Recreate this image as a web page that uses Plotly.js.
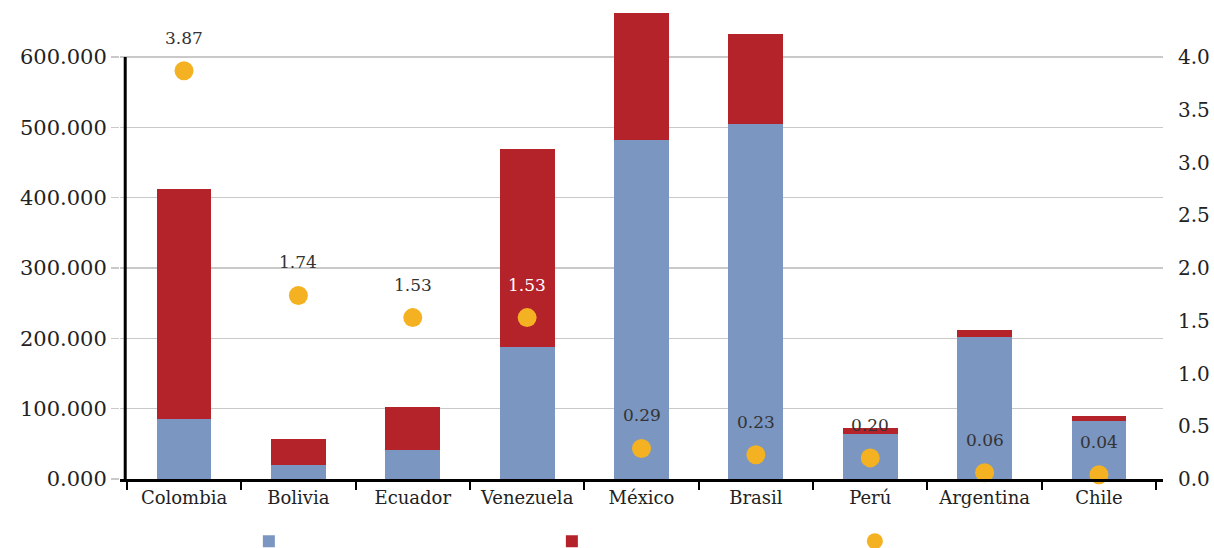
<!DOCTYPE html>
<html>
<head>
<meta charset="utf-8">
<script src="https://cdn.plot.ly/plotly-3.0.1.min.js"></script>
<style>html,body{margin:0;padding:0;background:#fff;}#chart{width:1214px;height:548px;}</style>
</head>
<body>
<div id="chart"></div>
<script>
const countries = ["Colombia","Bolivia","Ecuador","Venezuela","México","Brasil","Perú","Argentina","Chile"];
const blueValues = [85000, 20000, 41000, 188000, 482000, 505000, 64000, 202000, 82000];
const redValues = [327000, 37000, 61000, 281000, 181000, 128000, 8500, 10000, 8000];
const ratioValues = [3.87, 1.74, 1.53, 1.53, 0.29, 0.23, 0.20, 0.06, 0.04];
const ratioLabelColors = ["#333","#333","#333","#fff","#333","#333","#333","#333","#333"];
const leftTickVals = [0, 100000, 200000, 300000, 400000, 500000, 600000];
const leftTickText = ["0.000","100.000","200.000","300.000","400.000","500.000","600.000"];
const rightTickVals = [0, 0.5, 1.0, 1.5, 2.0, 2.5, 3.0, 3.5, 4.0];
const rightTickText = ["0.0","0.5","1.0","1.5","2.0","2.5","3.0","3.5","4.0"];

const FONT = "DejaVu Serif, serif";
const leftMax = 674000;
const rightMax = leftMax / 150000;

const traces = [
  {type:"bar", x:countries, y:blueValues, name:" ", marker:{color:"#7B96C1"}, hoverinfo:"skip"},
  {type:"bar", x:countries, y:redValues, name:" ", marker:{color:"#B4222A"}, hoverinfo:"skip"},
  {type:"scatter", mode:"markers", x:countries, y:ratioValues, yaxis:"y2", name:" ",
   marker:{color:"#F4B223", size:19}, cliponaxis:false, hoverinfo:"skip"}
];

const annotations = countries.map((c,i)=>({
  x:c, y:ratioValues[i], xref:"x", yref:"y2", yshift:33, showarrow:false,
  text:ratioValues[i].toFixed(2), font:{family:FONT, size:17, color:ratioLabelColors[i]}
}));

const layout = {
  width:1214, height:548,
  margin:{l:120, r:51, t:5, b:69},
  paper_bgcolor:"#fff", plot_bgcolor:"#fff",
  barmode:"stack", bargap:0.52,
  font:{family:FONT, color:"#333"},
  showlegend:true,
  legend:{orientation:"h", xref:"container", x:0.205, xanchor:"left",
    yref:"container", y:0.012, yanchor:"middle",
    traceorder:"normal", entrywidth:258, entrywidthmode:"pixels",
    font:{family:FONT, size:15}},
  xaxis:{type:"category", showline:true, linecolor:"#000", linewidth:3,
    ticks:"outside", tickson:"boundaries", ticklen:8, tickwidth:2, tickcolor:"#000",
    tickfont:{family:FONT, size:18, color:"#222"}, showgrid:false, zeroline:false, fixedrange:true},
  yaxis:{range:[0,leftMax], tickvals:leftTickVals, ticktext:leftTickText,
    showgrid:true, gridcolor:"#C9C9C9", gridwidth:1.5, zeroline:false, showline:false,
    ticks:"outside", ticklen:8, tickcolor:"#C9C9C9", tickwidth:1.5,
    tickfont:{family:FONT, size:21, color:"#222"}, fixedrange:true},
  yaxis2:{range:[0,rightMax], overlaying:"y", side:"right", tickvals:rightTickVals, ticktext:rightTickText,
    showgrid:false, zeroline:false, showline:false, ticks:"outside", ticklen:10, tickcolor:"rgba(0,0,0,0)",
    tickfont:{family:FONT, size:20, color:"#222"}, fixedrange:true},
  shapes:[{type:"line", xref:"paper", x0:0.005, x1:0.005, yref:"y", y0:0, y1:leftTickVals[leftTickVals.length-1],
    line:{color:"#000", width:3}, layer:"above"}],
  annotations:annotations
};

Plotly.newPlot("chart", traces, layout, {displayModeBar:false, staticPlot:true});
</script>
</body>
</html>
